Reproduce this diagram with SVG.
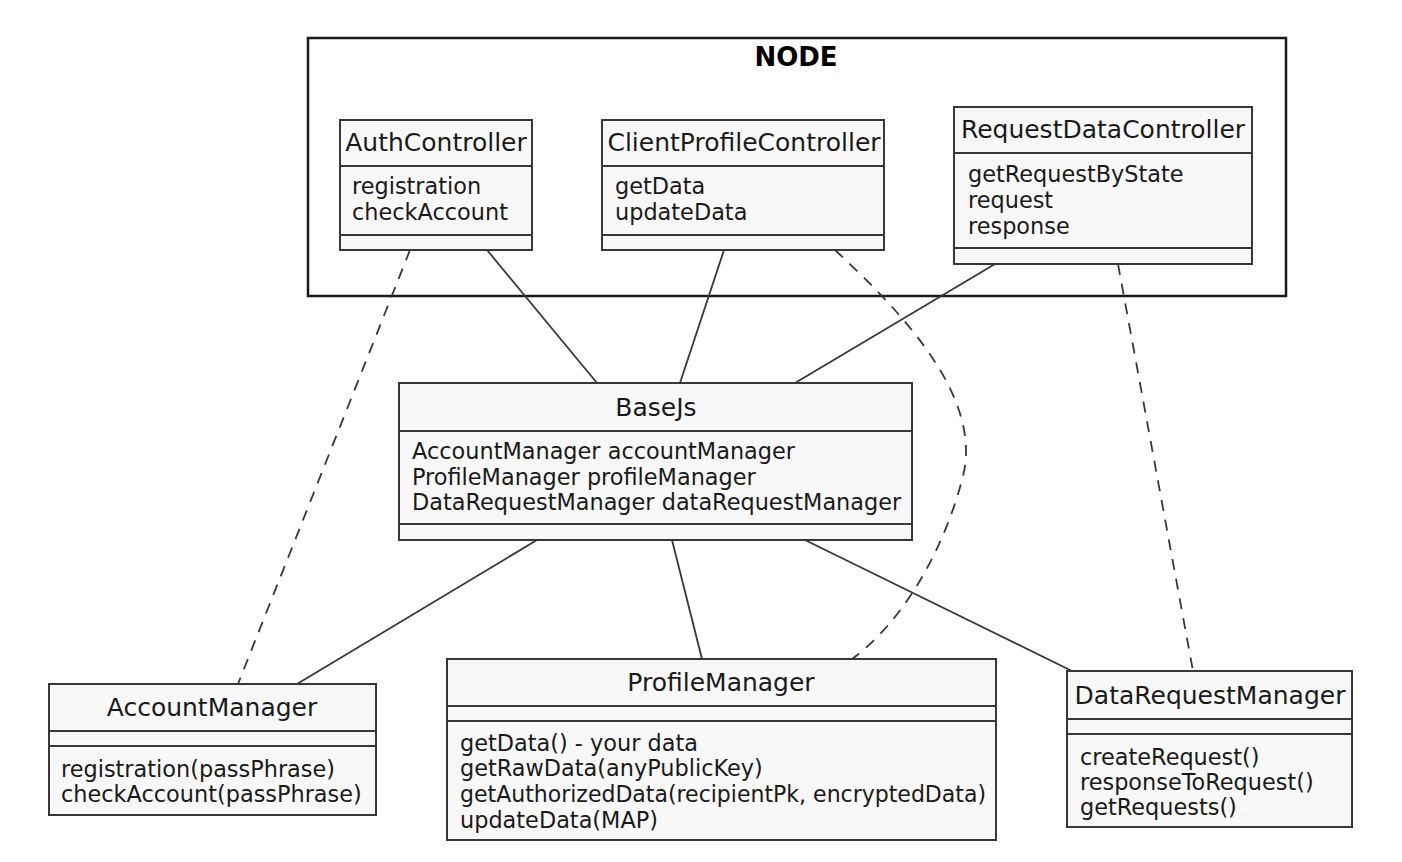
<svg xmlns="http://www.w3.org/2000/svg" width="1402" height="862" viewBox="0 0 1402 862">
<style>
.box{fill:#F8F8F8;stroke:#383838;stroke-width:2}
.sep{stroke:#383838;stroke-width:2}
.t{font-family:"DejaVu Sans",sans-serif;font-size:25px;fill:#1a1a1a;text-anchor:middle}
.a{font-family:"DejaVu Sans",sans-serif;font-size:22.4px;fill:#1a1a1a}
.ln{fill:none;stroke:#383838;stroke-width:1.8}
.dl{fill:none;stroke:#383838;stroke-width:1.8;stroke-dasharray:11 9}
</style>
<rect width="1402" height="862" fill="#ffffff"/>
<g id="node-frame">
<rect x="308" y="38" width="978" height="258" fill="none" stroke="#1a1a1a" stroke-width="2.5"/>
<text x="796" y="66" font-family="DejaVu Sans,sans-serif" font-size="26" font-weight="bold" text-anchor="middle" fill="#000">NODE</text>
</g>
<g id="connectors">
<line class="ln" x1="487" y1="250" x2="597" y2="383"/>
<line class="ln" x1="724" y1="250" x2="680" y2="383"/>
<line class="ln" x1="995" y1="264" x2="795" y2="383"/>
<line class="ln" x1="537" y1="540" x2="297" y2="684"/>
<line class="ln" x1="672" y1="540" x2="702" y2="659"/>
<line class="ln" x1="805" y1="540" x2="1072" y2="671"/>
<line class="dl" x1="410" y1="250" x2="238" y2="684"/>
<path class="dl" d="M835,250 C905,315 985,400 962,480 C944,548 905,620 852,659"/>
<line class="dl" x1="1118" y1="264" x2="1193" y2="671"/>
</g>
<g id="AuthController">
<rect class="box" x="340" y="120" width="192" height="130"/>
<line class="sep" x1="340" y1="166" x2="532" y2="166"/>
<line class="sep" x1="340" y1="235" x2="532" y2="235"/>
<text class="t" x="436" y="151">AuthController</text>
<text class="a" x="352" y="194">registration</text>
<text class="a" x="352" y="220">checkAccount</text>
</g>
<g id="ClientProfileController">
<rect class="box" x="602" y="120" width="282" height="130"/>
<line class="sep" x1="602" y1="166" x2="884" y2="166"/>
<line class="sep" x1="602" y1="235" x2="884" y2="235"/>
<text class="t" x="744" y="151">ClientProfileController</text>
<text class="a" x="615" y="194">getData</text>
<text class="a" x="615" y="220">updateData</text>
</g>
<g id="RequestDataController">
<rect class="box" x="954" y="107" width="298" height="157"/>
<line class="sep" x1="954" y1="153" x2="1252" y2="153"/>
<line class="sep" x1="954" y1="248" x2="1252" y2="248"/>
<text class="t" x="1103" y="138">RequestDataController</text>
<text class="a" x="968" y="182">getRequestByState</text>
<text class="a" x="968" y="208">request</text>
<text class="a" x="968" y="234">response</text>
</g>
<g id="BaseJs">
<rect class="box" x="399" y="383" width="513" height="157"/>
<line class="sep" x1="399" y1="431" x2="912" y2="431"/>
<line class="sep" x1="399" y1="524" x2="912" y2="524"/>
<text class="t" x="656" y="416">BaseJs</text>
<text class="a" x="412" y="459">AccountManager accountManager</text>
<text class="a" x="412" y="485">ProfileManager profileManager</text>
<text class="a" x="412" y="510">DataRequestManager dataRequestManager</text>
</g>
<g id="AccountManager">
<rect class="box" x="49" y="684" width="327" height="131"/>
<line class="sep" x1="49" y1="731" x2="376" y2="731"/>
<line class="sep" x1="49" y1="746" x2="376" y2="746"/>
<text class="t" x="212" y="716">AccountManager</text>
<text class="a" x="61" y="777">registration(passPhrase)</text>
<text class="a" x="61" y="802">checkAccount(passPhrase)</text>
</g>
<g id="ProfileManager">
<rect class="box" x="447" y="659" width="549" height="181"/>
<line class="sep" x1="447" y1="706" x2="996" y2="706"/>
<line class="sep" x1="447" y1="721" x2="996" y2="721"/>
<text class="t" x="721" y="691">ProfileManager</text>
<text class="a" x="460" y="751">getData() - your data</text>
<text class="a" x="460" y="776">getRawData(anyPublicKey)</text>
<text class="a" x="460" y="802" textLength="526" lengthAdjust="spacingAndGlyphs">getAuthorizedData(recipientPk, encryptedData)</text>
<text class="a" x="460" y="828">updateData(MAP)</text>
</g>
<g id="DataRequestManager">
<rect class="box" x="1067" y="671" width="285" height="156"/>
<line class="sep" x1="1067" y1="719" x2="1352" y2="719"/>
<line class="sep" x1="1067" y1="734" x2="1352" y2="734"/>
<text class="t" x="1210" y="704">DataRequestManager</text>
<text class="a" x="1080" y="765">createRequest()</text>
<text class="a" x="1080" y="790">responseToRequest()</text>
<text class="a" x="1080" y="815">getRequests()</text>
</g>
</svg>
